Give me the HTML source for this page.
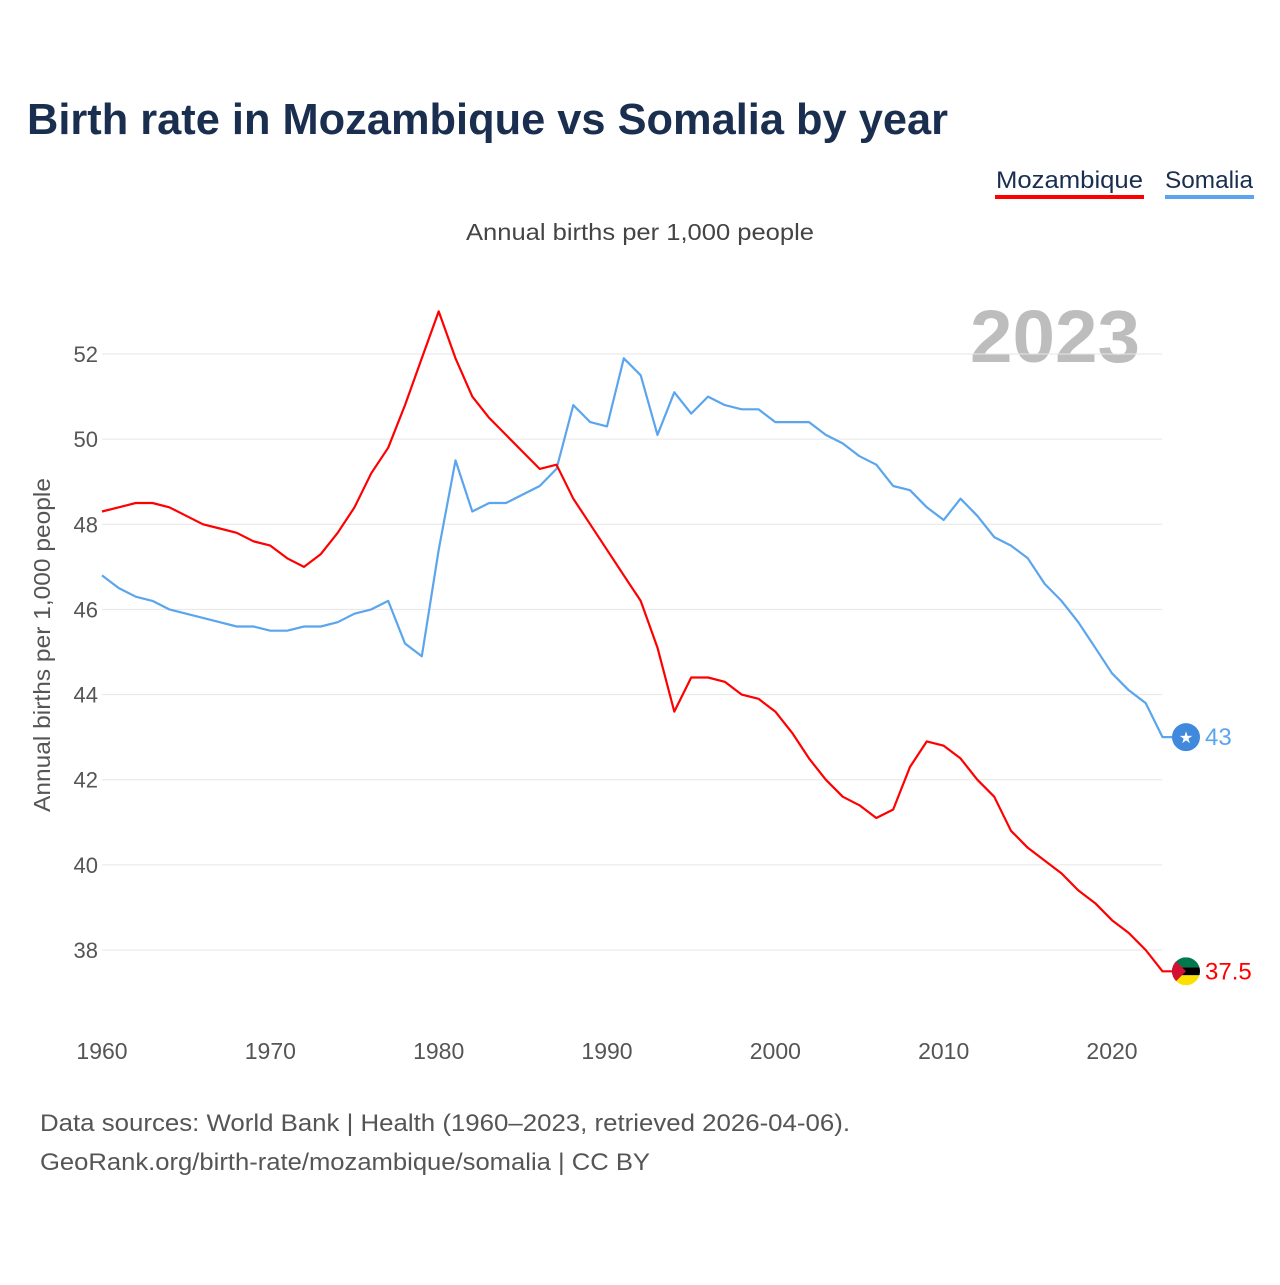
<!DOCTYPE html>
<html><head><meta charset="utf-8"><style>
body{margin:0;background:#fff;font-family:"Liberation Sans",sans-serif;}
svg text{font-family:"Liberation Sans",sans-serif;}
</style></head><body>
<svg id="chart" width="1280" height="1280" viewBox="0 0 1280 1280">
<text x="27" y="134" font-size="44" font-weight="bold" fill="#1a2e4f" textLength="921" lengthAdjust="spacingAndGlyphs">Birth rate in Mozambique vs Somalia by year</text>
<g><text x="996" y="188" font-size="24" fill="#1a2e4f" textLength="147" lengthAdjust="spacingAndGlyphs">Mozambique</text><rect x="995" y="195" width="149" height="4" fill="#ff0000"/></g>
<g><text x="1165" y="188" font-size="24" fill="#1a2e4f" textLength="88" lengthAdjust="spacingAndGlyphs">Somalia</text><rect x="1165" y="195" width="89" height="4" fill="#5aa5ee"/></g>
<text x="466" y="240" font-size="23" fill="#444" textLength="348" lengthAdjust="spacingAndGlyphs">Annual births per 1,000 people</text>
<text x="1140" y="362" font-size="74" font-weight="bold" fill="#bdbdbd" text-anchor="end" textLength="170" lengthAdjust="spacingAndGlyphs">2023</text>
<text transform="translate(50,645) rotate(-90)" font-size="23" fill="#555" text-anchor="middle" textLength="334" lengthAdjust="spacingAndGlyphs">Annual births per 1,000 people</text>
<g id="grid"></g><g id="series"></g>
<text x="40" y="1131" font-size="24" fill="#555" textLength="810" lengthAdjust="spacingAndGlyphs">Data sources: World Bank | Health (1960–2023, retrieved 2026-04-06).</text>
<text x="40" y="1170" font-size="24" fill="#555" textLength="610" lengthAdjust="spacingAndGlyphs">GeoRank.org/birth-rate/mozambique/somalia | CC BY</text>
</svg>
<script>
const years=[];for(let y=1960;y<=2023;y++)years.push(y);
const mozambique=[48.3,48.4,48.5,48.5,48.4,48.2,48.0,47.9,47.8,47.6,47.5,47.2,47.0,47.3,47.8,48.4,49.2,49.8,50.8,51.9,53.0,51.9,51.0,50.5,50.1,49.7,49.3,49.4,48.6,48.0,47.4,46.8,46.2,45.1,43.6,44.4,44.4,44.3,44.0,43.9,43.6,43.1,42.5,42.0,41.6,41.4,41.1,41.3,42.3,42.9,42.8,42.5,42.0,41.6,40.8,40.4,40.1,39.8,39.4,39.1,38.7,38.4,38.0,37.5];
const somalia=[46.8,46.5,46.3,46.2,46.0,45.9,45.8,45.7,45.6,45.6,45.5,45.5,45.6,45.6,45.7,45.9,46.0,46.2,45.2,44.9,47.4,49.5,48.3,48.5,48.5,48.7,48.9,49.3,50.8,50.4,50.3,51.9,51.5,50.1,51.1,50.6,51.0,50.8,50.7,50.7,50.4,50.4,50.4,50.1,49.9,49.6,49.4,48.9,48.8,48.4,48.1,48.6,48.2,47.7,47.5,47.2,46.6,46.2,45.7,45.1,44.5,44.1,43.8,43.0];
const yTicks=[38,40,42,44,46,48,50,52];
const xTicks=[1960,1970,1980,1990,2000,2010,2020];
const NS="http://www.w3.org/2000/svg";
const X=y=>102+(y-1960)*1010/60;
const Y=v=>950-(v-38)*596/14;
function mk(t,a,p){const e=document.createElementNS(NS,t);for(const k in a)e.setAttribute(k,a[k]);p.appendChild(e);return e;}
const grid=document.getElementById('grid'),ser=document.getElementById('series');
yTicks.forEach(v=>{
const l=mk('line',{x1:102,x2:1162,y1:Y(v),y2:Y(v),stroke:'#e6e6e6','stroke-width':1},grid);


const t=mk('text',{x:98,y:Y(v)+8,'font-size':22,fill:'#555','text-anchor':'end'},grid);t.textContent=v;


});
xTicks.forEach(v=>{
const t=mk('text',{x:X(v),y:1059,'font-size':23,fill:'#555','text-anchor':'middle'},grid);t.textContent=v;


});
function line(data,color,name){
const last=data.length-1;
const p=mk('path',{d:data.map((v,i)=>(i?'L':'M')+X(years[i]).toFixed(1)+','+Y(v).toFixed(1)).join('')+'L'+(X(years[last])+10).toFixed(1)+','+Y(data[last]).toFixed(1),fill:'none',stroke:color,'stroke-width':2.2,'stroke-linejoin':'round'},ser);


}
line(somalia,'#5aa5ee','somalia');
line(mozambique,'#ff0000','mozambique');
const last=years.length-1;
const sy=Y(somalia[last]),my=Y(mozambique[last]);
const sf=mk('circle',{cx:1186,cy:sy,r:14,fill:'#4189dd'},ser);


const st=mk('text',{x:1186,y:sy+6,'font-size':16,fill:'#fff','text-anchor':'middle'},ser);st.textContent='★';
const sl=mk('text',{x:1205,y:sy+8,'font-size':24,fill:'#5aa5ee'},ser);sl.textContent=somalia[last];


const g=mk('g',{},ser);


mk('clipPath',{id:'cp'},g).appendChild(document.createElementNS(NS,'circle'));
const cc=g.querySelector('clipPath circle');cc.setAttribute('cx',1186);cc.setAttribute('cy',my);cc.setAttribute('r',14);
const fg=mk('g',{'clip-path':'url(#cp)'},g);
mk('rect',{x:1172,y:my-14,width:28,height:10,fill:'#007a4d'},fg);
mk('rect',{x:1172,y:my-4,width:28,height:8,fill:'#000'},fg);
mk('rect',{x:1172,y:my+4,width:28,height:10,fill:'#fce100'},fg);
mk('polygon',{points:`1172,${my-14} 1186,${my} 1172,${my+14}`,fill:'#d21034'},fg);
const ml=mk('text',{x:1205,y:my+8,'font-size':24,fill:'#ff0000'},ser);ml.textContent=mozambique[last];


</script>
</body></html>
